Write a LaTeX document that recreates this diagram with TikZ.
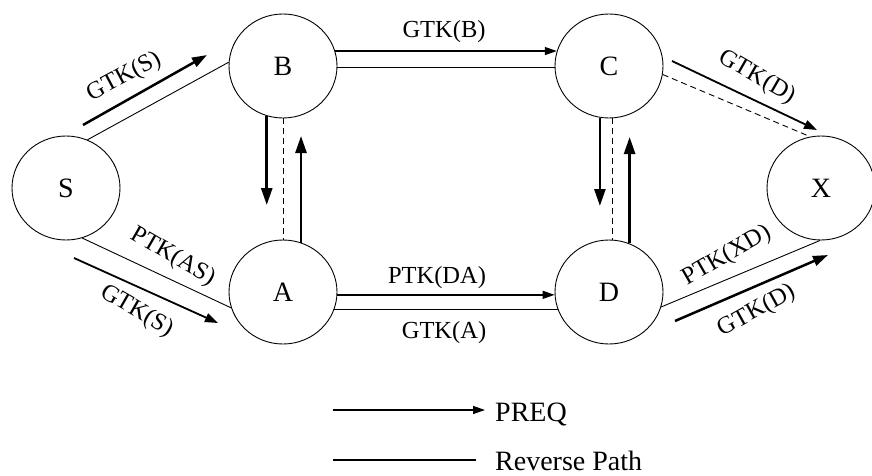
\documentclass[tikz,border=0pt]{standalone}
\usepackage{fontspec}
\setmainfont{Liberation Serif}
\usetikzlibrary{arrows.meta,shapes.geometric}
\begin{document}
\begin{tikzpicture}[x=1pt,y=-1pt,
  nd/.style={draw,ellipse,minimum width=108pt,minimum height=104pt,inner sep=0pt,line width=0.9pt,font=\fontsize{28}{30}\selectfont},
  rev/.style={line width=0.9pt},
  dsh/.style={line width=0.9pt,dash pattern=on 6pt off 4pt},
  parr/.style={line width=1.3pt,-{Triangle[length=12pt,width=8pt]}},
  marr/.style={line width=1.8pt,-{Triangle[length=13pt,width=9pt]}},
  tarr/.style={line width=2.5pt,-{Triangle[length=15pt,width=10pt]}},
  varr/.style={line width=2.6pt,-{Triangle[length=17pt,width=11pt]}},
  lbl/.style={inner sep=0pt,font=\fontsize{24.5}{26}\selectfont},
  leg/.style={inner sep=0pt,font=\fontsize{28}{30}\selectfont}
]
\useasboundingbox (0,0) rectangle (872,476);

% nodes
\node[nd] (S) at (66,188) {S};
\node[nd] (B) at (283,66) {B};
\node[nd] (A) at (283,292) {A};
\node[nd] (C) at (609,66) {C};
\node[nd] (D) at (609,292) {D};
\node[nd] (X) at (821,188) {X};

% reverse path lines
\draw[rev] (S.66) -- (B.176);
\draw[rev] (S.-72) -- (A.197);
\draw[rev] (B.-2) -- (C.182);
\draw[rev] (A.-19) -- (D.199);
\draw[rev] (D.-16) -- (X.269);

% PREQ arrows along lines
\draw[parr] (B.16) -- (C.164);
\draw[parr] (A.-3) -- (D.183);

% dashed lines
\draw[dsh] (B.south) -- (A.north);
\draw[dsh] (C.-86) -- (C.-86 |- D.north);
\draw[dsh] (C.-9.5) -- (X.102);

% vertical arrows
\coordinate (ba) at (266,205);
\coordinate (ab) at (301,136);
\coordinate (cd) at (600,206);
\coordinate (dc) at (630,137);
\draw[varr] (B.252) -- (B.252 |- ba);
\draw[varr] (A.70) -- (A.70 |- ab);
\draw[varr] (C.260) -- (C.260 |- cd);
\draw[varr] (D.67) -- (D.67 |- dc);

% free arrows
\coordinate (sb1) at (83,125);  \coordinate (sb2) at (207,55);
\coordinate (sa1) at (74,258);  \coordinate (sa2) at (218,323);
\coordinate (cx1) at (672,61);  \coordinate (cx2) at (817,130);
\coordinate (dx1) at (675,321); \coordinate (dx2) at (828,255);
\draw[tarr] (sb1) -- (sb2);
\draw[marr] (sa1) -- (sa2);
\draw[marr] (cx1) -- (cx2);
\draw[tarr] (dx1) -- (dx2);

% labels
\node[lbl,rotate=28] (lsb) at (124,77) {GTK(S)};
\node[lbl,rotate=-30] (las) at (173,257) {PTK(AS)};
\node[lbl,rotate=-30] (lsa) at (137,311) {GTK(S)};
\node[lbl,anchor=base] (lbc) at (444,38) {GTK(B)};
\node[lbl,anchor=base] (lda) at (437,283) {PTK(DA)};
\node[lbl,anchor=base] (lad) at (444,338) {GTK(A)};
\node[lbl,rotate=-30] (lcx) at (757,77) {GTK(D)};
\node[lbl,rotate=30] (lxd) at (727,256) {PTK(XD)};
\node[lbl,rotate=29] (ldx) at (757,311) {GTK(D)};

% legend
\coordinate (p1) at (333,410); \coordinate (p2) at (485,410);
\coordinate (r1) at (333,460); \coordinate (r2) at (476,460);
\draw[parr] (p1) -- (p2);
\draw[line width=1.2pt] (r1) -- (r2);
\node[leg,anchor=base west] (lp) at (495,421) {PREQ};
\node[leg,anchor=base west] (lr) at (495,470) {Reverse Path};
\end{tikzpicture}
\end{document}
